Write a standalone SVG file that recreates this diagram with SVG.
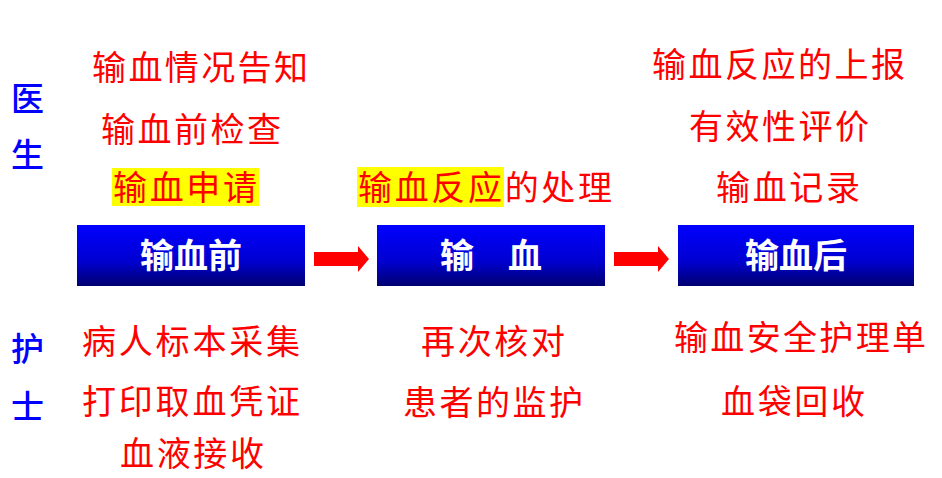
<svg xmlns="http://www.w3.org/2000/svg" width="942" height="478" viewBox="0 0 942 478">
<style>
.t{font-family:"Noto Sans CJK SC","Noto Sans",sans-serif;font-size:34px;fill:#ff0000}
.b{font-family:"Noto Sans CJK SC","Noto Sans",sans-serif;font-size:33px;font-weight:500;fill:#0000ff}
.w{font-family:"Noto Sans CJK SC","Noto Sans",sans-serif;font-size:34px;font-weight:bold;fill:#ffffff;text-anchor:middle}
.hl{fill:#ffff00}
.box{fill:url(#g)}
.arr{fill:#ff0000}
</style>
<defs>
<linearGradient id="g" x1="0" y1="0" x2="0" y2="1">
<stop offset="0" stop-color="#0000ff"/>
<stop offset="0.6" stop-color="#0000d0"/>
<stop offset="1" stop-color="#000070"/>
</linearGradient>
</defs>
<rect width="942" height="478" fill="#ffffff"/>
<g id="doctor-label">
<text class="b" x="11" y="111">医</text>
<text class="b" x="11" y="167">生</text>
</g>
<g id="nurse-label">
<text class="b" x="11" y="361">护</text>
<text class="b" x="11" y="419">士</text>
</g>
<g id="before-doctor">
<text class="t" x="92" y="80" textLength="216">输血情况告知</text>
<text class="t" x="101" y="142" textLength="180">输血前检查</text>
<rect class="hl" x="112" y="168" width="147" height="38"/>
<text class="t" x="113" y="200" textLength="144">输血申请</text>
</g>
<g id="node-before">
<rect class="box" x="77" y="225" width="228" height="61"/>
<text class="w" x="191" y="268">输血前</text>
</g>
<g id="before-nurse">
<text class="t" x="82" y="354" textLength="218">病人标本采集</text>
<text class="t" x="82" y="414" textLength="218">打印取血凭证</text>
<text class="t" x="120" y="466" textLength="144">血液接收</text>
</g>
<g id="during-doctor">
<rect class="hl" x="357" y="167" width="147" height="40"/>
<text class="t" x="358" y="200" textLength="254">输血反应的处理</text>
</g>
<g id="node-during">
<rect class="box" x="377" y="225" width="228" height="61"/>
<text class="w" x="491" y="268" xml:space="preserve">输　血</text>
</g>
<g id="during-nurse">
<text class="t" x="421" y="354" textLength="144">再次核对</text>
<text class="t" x="403" y="415" textLength="180">患者的监护</text>
</g>
<g id="after-doctor">
<text class="t" x="652" y="77" textLength="253">输血反应的上报</text>
<text class="t" x="689" y="139" textLength="180">有效性评价</text>
<text class="t" x="716" y="200" textLength="144">输血记录</text>
</g>
<g id="node-after">
<rect class="box" x="678" y="225" width="236" height="61"/>
<text class="w" x="796" y="268">输血后</text>
</g>
<g id="after-nurse">
<text class="t" x="674" y="350" textLength="252">输血安全护理单</text>
<text class="t" x="721" y="414" textLength="144">血袋回收</text>
</g>
<g id="connectors">
<polygon class="arr" points="314,252 358,252 358,246 369,259 358,272 358,266 314,266"/>
<polygon class="arr" points="614,252 658,252 658,246 669,259 658,272 658,266 614,266"/>
</g>
</svg>
